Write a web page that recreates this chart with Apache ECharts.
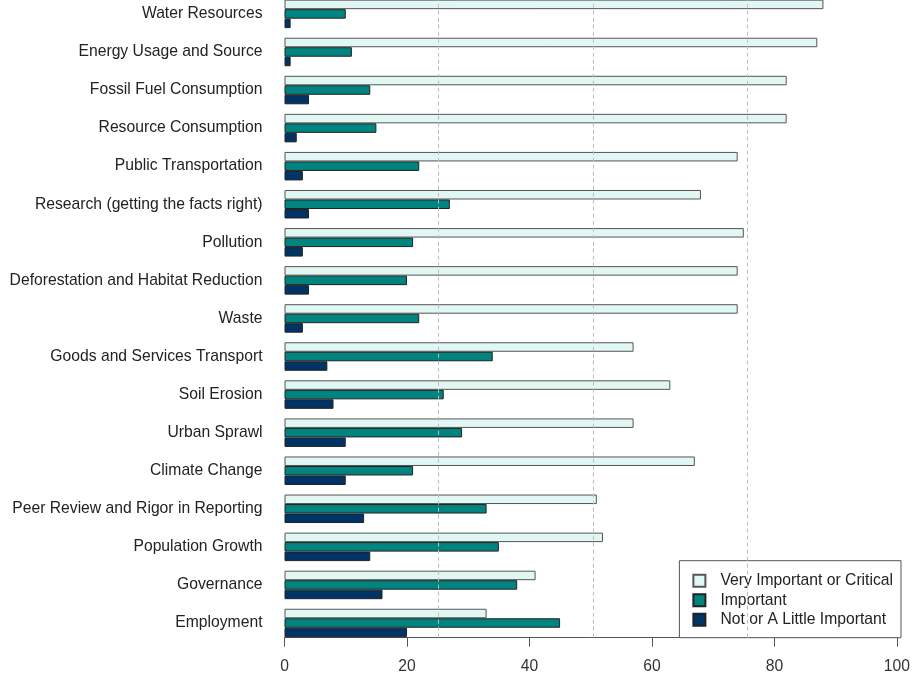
<!DOCTYPE html>
<html>
<head>
<meta charset="utf-8">
<script src="https://cdn.jsdelivr.net/npm/echarts@6/dist/echarts.min.js"></script>
<style>
  html, body { margin: 0; padding: 0; background: #fff; }
  #main { width: 913px; height: 679px; }
</style>
</head>
<body>
<div id="main"></div>
<script>
var categories = ['Water Resources', 'Energy Usage and Source', 'Fossil Fuel Consumption', 'Resource Consumption',
    'Public Transportation', 'Research (getting the facts right)', 'Pollution', 'Deforestation and Habitat Reduction',
    'Waste', 'Goods and Services Transport', 'Soil Erosion', 'Urban Sprawl', 'Climate Change',
    'Peer Review and Rigor in Reporting', 'Population Growth', 'Governance', 'Employment'];
var veryImportant = [88, 87, 82, 82, 74, 68, 75, 74, 74, 57, 63, 57, 67, 51, 52, 41, 33];
var important = [10, 11, 14, 15, 22, 27, 21, 20, 22, 34, 26, 29, 21, 33, 35, 38, 45];
var littleImportant = [1, 1, 4, 2, 3, 4, 3, 4, 3, 7, 8, 10, 10, 13, 14, 16, 20];
var seriesNames = ['Very Important or Critical', 'Important', 'Not or A Little Important'];
var gridLines = [25, 50, 75];

var font = "'Liberation Sans', Arial, sans-serif";
var fs = 15.7;
var myChart = echarts.init(document.getElementById('main'));

var option = {
    animation: false,
    textStyle: { fontFamily: font },
    grid: [
        // bars: top/bottom are the centres of the first and last group
        { left: 284.5, right: 12, top: 13.9, height: 609.1 },
        // full plot area, only for the dashed guides
        { left: 284.5, right: 12, top: 0, height: 637.7 }
    ],
    legend: {
        data: seriesNames,
        orient: 'vertical',
        right: 12,
        bottom: 41.3,
        itemWidth: 12,
        itemHeight: 12,
        itemGap: 3.5,
        padding: [12, 8, 10, 13],
        backgroundColor: '#fff',
        borderColor: '#555',
        borderWidth: 1,
        borderRadius: 0,
        icon: 'rect',
        textStyle: { fontSize: fs, lineHeight: 16, color: '#222', fontFamily: font, padding: [0, 0, 0, 10] }
    },
    xAxis: [
        {
            type: 'value',
            gridIndex: 0,
            min: 0,
            max: 100,
            interval: 20,
            offset: 14.7,
            axisLine: { show: true, lineStyle: { color: '#555', width: 1 } },
            axisTick: { show: true, length: 9, lineStyle: { color: '#555', width: 1 } },
            axisLabel: { fontSize: fs, color: '#333', margin: 20.5, fontFamily: font },
            splitLine: { show: false }
        },
        { type: 'value', gridIndex: 1, min: 0, max: 100, show: false }
    ],
    yAxis: [
        {
            type: 'category',
            gridIndex: 0,
            inverse: true,
            boundaryGap: false,
            data: categories,
            axisLine: { show: false },
            axisTick: { show: false },
            axisLabel: { fontSize: fs, color: '#222', margin: 22, fontFamily: font }
        },
        { type: 'value', gridIndex: 1, min: 0, max: 1, show: false }
    ],
    series: [
        {
            name: seriesNames[0], type: 'bar', data: veryImportant, z: 2,
            barWidth: 9.5, barGap: '0%',
            itemStyle: { color: '#E0F7F4', borderColor: '#555', borderWidth: 1 }
        },
        {
            // dashed guides sit above the light bars, below the others
            name: 'guides', type: 'line', data: [], z: 3,
            xAxisIndex: 1, yAxisIndex: 1,
            markLine: {
                silent: true,
                symbol: 'none',
                label: { show: false },
                lineStyle: { color: '#bdbdbd', type: [4, 3], width: 1 },
                data: gridLines.map(function (v) { return { xAxis: v }; })
            }
        },
        {
            name: seriesNames[1], type: 'bar', data: important, z: 4,
            barWidth: 9.5, barGap: '0%',
            itemStyle: { color: '#00847F', borderColor: '#222', borderWidth: 1 }
        },
        {
            name: seriesNames[2], type: 'bar', data: littleImportant, z: 4,
            barWidth: 9.5, barGap: '0%',
            itemStyle: { color: '#003366', borderColor: '#222', borderWidth: 1 }
        }
    ]
};

myChart.setOption(option);
</script>
</body>
</html>
